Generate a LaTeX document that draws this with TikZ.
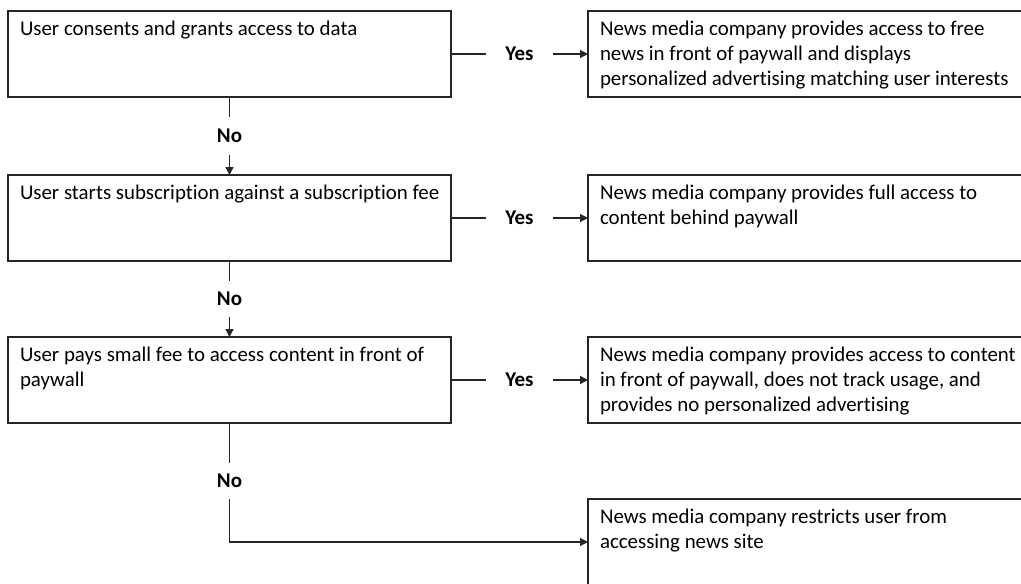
\documentclass[tikz,border=0pt]{standalone}
\usepackage{fontspec}
\setmainfont[Ligatures=NoCommon]{Carlito}
\usepackage{tikz}
\usetikzlibrary{arrows.meta, positioning}

% top-left text in a box of fixed size
\newcommand{\boxtext}[3]{\parbox[t][#2][t]{#1}{\begin{tabular}[t]{@{}l@{}}#3\end{tabular}}}

\begin{document}
\begin{tikzpicture}[x=1pt, y=-1pt,
        font=\fontsize{20.9}{25}\selectfont,
        choice/.style={draw=black!85, line width=1.3pt, inner xsep=12pt, inner ysep=6.5pt, outer sep=0pt},
        answer/.style={font=\fontsize{21}{25}\selectfont\bfseries, inner sep=0pt},
        flow/.style={draw=black!85, line width=1.3pt},
        flowarrow/.style={flow, -{Triangle[length=8pt, width=8pt]}}]
        \useasboundingbox (0, 0) rectangle (1021, 584);
        \clip (0, 0) rectangle (1021, 584);
        % Decisions
        \node [choice, anchor=north west] (l1) at (8, 11)
            {\boxtext{419pt}{73pt}{User consents and grants access to data}};
        \node [choice, below=78pt of l1] (l2)
            {\boxtext{419pt}{73pt}{User starts subscription against a subscription fee}};
        \node [choice, below=76pt of l2] (l3)
            {\boxtext{419pt}{73pt}{User pays small fee to access content in front of\\paywall}};
        % Outcomes
        \node [choice, right=137pt of l1] (r1)
            {\boxtext{436pt}{73pt}{News media company provides access to free\\news in front of paywall and displays\\personalized advertising matching user interests}};
        \node [choice, right=137pt of l2] (r2)
            {\boxtext{436pt}{73pt}{News media company provides full access to\\content behind paywall}};
        \node [choice, right=137pt of l3] (r3)
            {\boxtext{436pt}{73pt}{News media company provides access to content\\in front of paywall, does not track usage, and\\provides no personalized advertising}};
        \node [choice, below=76pt of r3] (r4)
            {\boxtext{436pt}{73pt}{News media company restricts user from\\accessing news site}};
        % Yes
        \path (l1.east) -- node [answer, minimum width=66pt] (yes1) {Yes} (r1.west);
        \path (l2.east) -- node [answer, minimum width=66pt] (yes2) {Yes} (r2.west);
        \path (l3.east) -- node [answer, minimum width=66pt] (yes3) {Yes} (r3.west);
        \draw [flow] (l1.east) -- (yes1.west);
        \draw [flowarrow] (yes1.east) -- (r1.west);
        \draw [flow] (l2.east) -- (yes2.west);
        \draw [flowarrow] (yes2.east) -- (r2.west);
        \draw [flow] (l3.east) -- (yes3.west);
        \draw [flowarrow] (yes3.east) -- (r3.west);
        % No
        \path (l1.south) -- node [answer, minimum height=37pt] (no1) {No} (l2.north);
        \path (l2.south) -- node [answer, minimum height=35pt] (no2) {No} (l3.north);
        \node [answer, minimum height=36pt, below=40pt of l3] (no3) {No};
        \draw [flow] (l1.south) -- (no1.north);
        \draw [flowarrow] (no1.south) -- (l2.north);
        \draw [flow] (l2.south) -- (no2.north);
        \draw [flowarrow] (no2.south) -- (l3.north);
        \draw [flow] (l3.south) -- (no3.north);
        \draw [flowarrow] (no3.south) |- (r4.west);
    \end{tikzpicture}
\end{document}
